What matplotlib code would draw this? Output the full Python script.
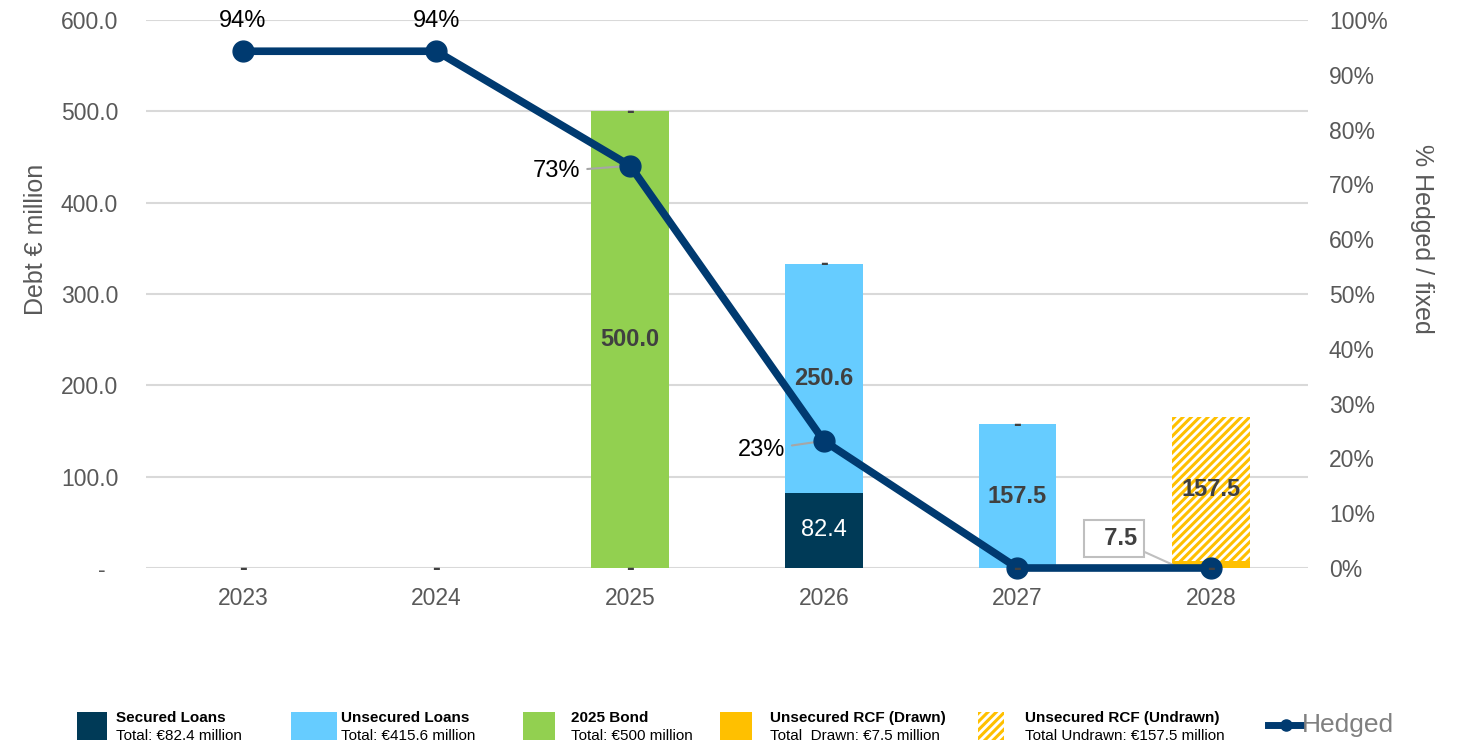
import numpy as np
import matplotlib as mpl
mpl.use("Agg")
import matplotlib.pyplot as plt
from matplotlib.patches import Rectangle
from matplotlib.lines import Line2D
from matplotlib.ticker import FuncFormatter

mpl.rcParams["font.family"] = ["Liberation Sans", "DejaVu Sans"]
mpl.rcParams["hatch.linewidth"] = 2.2

years = ["2023", "2024", "2025", "2026", "2027", "2028"]
secured = [0.0, 0.0, 0.0, 82.4, 0.0, 0.0]
unsecured = [0.0, 0.0, 0.0, 250.6, 157.5, 0.0]
bond = [0.0, 0.0, 500.0, 0.0, 0.0, 0.0]
rcf_drawn = [0.0, 0.0, 0.0, 0.0, 0.0, 7.5]
rcf_undrawn = [0.0, 0.0, 0.0, 0.0, 0.0, 157.5]
hedged = [0.943, 0.943, 0.734, 0.232, 0.0, 0.0]
hedged_labels = ["94%", "94%", "73%", "23%", "", ""]

legend_titles = ["Secured Loans", "Unsecured Loans", "2025 Bond",
                 "Unsecured RCF (Drawn)", "Unsecured RCF (Undrawn)"]
legend_totals = ["Total: €82.4 million", "Total: €415.6 million",
                 "Total: €500 million", "Total  Drawn: €7.5 million",
                 "Total Undrawn: €157.5 million"]

c_secured = "#003A57"
c_unsecured = "#66CCFF"
c_bond = "#92D050"
c_rcf = "#FFC000"
c_line = "#003A70"
grey_txt = "#595959"
dark_lbl = "#404040"

W, H = 1458, 745
fig = plt.figure(figsize=(W / 100, H / 100), dpi=100)
ax = fig.add_axes([146 / W, 1 - 568 / H, 1162 / W, 548 / H])
ax2 = ax.twinx()

x = np.arange(len(years))
bw = 0.4
bottom = np.zeros(len(years))
series = [(secured, c_secured), (unsecured, c_unsecured), (bond, c_bond),
          (rcf_drawn, c_rcf)]
for vals, col in series:
    ax.bar(x, vals, bw, bottom=bottom, color=col, lw=0, zorder=2)
    bottom += np.array(vals)
ax.bar(x, rcf_undrawn, bw, bottom=bottom, color="white", edgecolor=c_rcf,
       hatch="////", lw=0, zorder=2)
total = bottom + np.array(rcf_undrawn)

# value labels inside bars
def label_segment(vals, base, color, bold=True):
    for i, v in enumerate(vals):
        if v > 50:
            ax.text(x[i], base[i] + v / 2, f"{v:.1f}", ha="center", va="center",
                    fontsize=17, color=color,
                    fontweight="bold" if bold else "normal", zorder=5)

base = np.zeros(len(years))
label_segment(secured, base, "white", bold=False)
base += np.array(secured)
label_segment(unsecured, base, dark_lbl)
base += np.array(unsecured)
label_segment(bond, base, dark_lbl)
base += np.array(bond)
base += np.array(rcf_drawn)
label_segment(rcf_undrawn, base, dark_lbl)

# "-" labels for empty series
for i in range(len(years)):
    if secured[i] == 0:
        ax2.text(x[i], 0, "-", transform=ax.transData, ha="center", va="center",
                 fontsize=17, fontweight="bold", color=dark_lbl, zorder=10)
    if rcf_undrawn[i] == 0 and total[i] > 0:
        ax2.text(x[i], total[i], "-", transform=ax.transData, ha="center",
                 va="center", fontsize=17, fontweight="bold", color=dark_lbl,
                 zorder=10)

ax.set_xlim(-0.5, len(years) - 0.5)
ax.set_ylim(0, 600)
ax.set_yticks(np.arange(0, 601, 100))
ax.yaxis.set_major_formatter(FuncFormatter(lambda v, p: "-  " if v == 0 else f"{v:.1f}"))
ax.set_xticks(x)
ax.set_xticklabels(years)
ax.grid(axis="y", color="#D9D9D9", lw=1.5, zorder=0)
ax.set_axisbelow(True)
ax.tick_params(axis="y", length=0, pad=20, labelsize=16.5, labelcolor=grey_txt)
ax.tick_params(axis="x", length=0, pad=14, labelsize=16.5, labelcolor=grey_txt)
ax.set_ylabel("Debt € million", fontsize=18, color=grey_txt)
ax.yaxis.set_label_coords(-0.084, 0.6)

ax2.plot(x, hedged, color=c_line, lw=5.5, marker="o", markersize=15,
         clip_on=False, zorder=4)
ax2.set_ylim(0, 1)
ax2.set_yticks(np.arange(0, 1.01, 0.1))
ax2.yaxis.set_major_formatter(FuncFormatter(lambda v, p: f"{v * 100:.0f}%"))
ax2.tick_params(axis="y", length=0, pad=15, labelsize=16.5, labelcolor=grey_txt)
ax2.set_ylabel("% Hedged / fixed", fontsize=18, color=grey_txt, rotation=270,
               va="bottom")
ax2.yaxis.set_label_coords(1.088, 0.6)

for a in (ax, ax2):
    for s in a.spines.values():
        s.set_visible(False)

# hedged % labels
lead = dict(arrowstyle="-", color="#A6A6A6", lw=1.5, shrinkA=3, shrinkB=0)
ax2.annotate(hedged_labels[0], (x[0], hedged[0]), xytext=(0, 22),
             textcoords="offset points", ha="center", va="center", fontsize=17)
ax2.annotate(hedged_labels[1], (x[1], hedged[1]), xytext=(0, 22),
             textcoords="offset points", ha="center", va="center", fontsize=17)
ax2.annotate(hedged_labels[2], (x[2], hedged[2]), xytext=(-53, -4),
             textcoords="offset points", ha="center", va="center", fontsize=17,
             arrowprops=lead, zorder=3)
ax2.annotate(hedged_labels[3], (x[3], hedged[3]), xytext=(-45, -6.5),
             textcoords="offset points", ha="center", va="center", fontsize=17,
             arrowprops=lead, zorder=3)

# 7.5 callout
ax.annotate("  " + f"{rcf_drawn[5]:.1f}", (x[5] - bw / 2, rcf_drawn[5] / 2),
            xytext=(-42, 19), textcoords="offset points", ha="center",
            va="center", fontsize=17, fontweight="bold", color=dark_lbl,
            bbox=dict(boxstyle="square,pad=0.3", fc="white", ec="#BFBFBF", lw=1.5),
            arrowprops=dict(arrowstyle="-", color="#BFBFBF", lw=1.5,
                            shrinkA=0, shrinkB=0), zorder=6)

# legend at the bottom
def fx(px):
    return px / W

def fy(py):
    return 1 - py / H

sq = [(77, 30, c_secured, None), (291, 46, c_unsecured, None),
      (523, 32, c_bond, None), (720, 32, c_rcf, None), (978, 26, c_rcf, "////")]
text_x = [116, 341, 571, 770, 1025]
for (px0, w, col, hatch), tx, t1, t2 in zip(sq, text_x, legend_titles, legend_totals):
    if hatch:
        r = Rectangle((fx(px0), fy(740)), w / W, 28 / H, transform=fig.transFigure,
                      facecolor="white", edgecolor=col, hatch=hatch, lw=0)
    else:
        r = Rectangle((fx(px0), fy(740)), w / W, 28 / H, transform=fig.transFigure,
                      facecolor=col, lw=0)
    fig.patches.append(r)
    fig.text(fx(tx), fy(718), t1, fontsize=11, fontweight="bold", va="center")
    fig.text(fx(tx), fy(736), t2, fontsize=11, va="center")

fig.lines.append(Line2D([fx(1268), fx(1286), fx(1302)], [fy(725)] * 3,
                        transform=fig.transFigure, color=c_line, lw=5,
                        marker="o", markersize=8, markevery=[1]))
fig.text(fx(1302), fy(725), "Hedged", fontsize=19, color="#808080", va="center")

fig.savefig("out.png", dpi=100)
